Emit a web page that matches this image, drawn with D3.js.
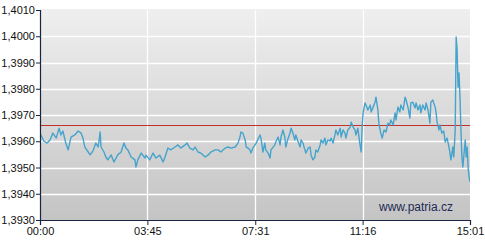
<!DOCTYPE html>
<html>
<head>
<meta charset="utf-8">
<script src="https://cdn.jsdelivr.net/npm/d3@7"></script>
<style>
  body { margin: 0; background: #fff; }
  text { font-family: "Liberation Sans", Arial, sans-serif; }
</style>
</head>
<body>
<svg id="chart"></svg>
<script>
// intraday rate, minutes since 00:00 and value
const minutes = [0,2,8,15,21,27,34,40,44,48,54,59,65,73,80,86,90,94,101,105,111,117,122,126,128,134,138,142,149,155,163,170,176,180,
  184,191,199,201,205,212,220,222,230,237,243,251,258,262,268,274,283,289,295,304,308,314,321,325,331,337,346,352,358,367,373,
  379,388,394,400,409,415,419,421,425,430,432,436,440,442,446,453,461,463,467,471,473,478,482,484,492,494,499,503,505,509,513,515,520,524,526,530,534,536,541,545,547,551,555,557,562,
  566,568,572,576,578,582,587,589,593,597,599,603,608,610,614,618,620,624,629,631,635,639,641,645,650,652,656,660,662,666,670,673,675,677,681,683,687,692,694,698,702,704,708,710,714,717,721,725,729,733,735,740,744,746,750,
  754,756,761,765,767,771,775,777,781,786,788,792,796,798,802,807,809,813,817,819,823,828,830,832,836,838,842,846,849,853,857,859,861,865,867,870,872,874,876,878,880,882,884,886,891,893,895,897,899,901];
const rates = [1.39616,1.39624,1.39601,1.39593,1.39605,1.39631,1.39612,1.39650,1.39624,1.39639,1.39593,1.39567,1.39616,1.39624,1.39639,1.39631,1.39612,1.39578,1.39559,1.39548,1.39563,1.39593,1.39578,1.39635,1.39578,1.39559,1.39540,1.39529,1.39548,1.39521,1.39548,1.39559,1.39593,1.39574,
  1.39567,1.39540,1.39529,1.39502,1.39529,1.39555,1.39536,1.39547,1.39529,1.39555,1.39536,1.39547,1.39521,1.39540,1.39574,1.39567,1.39578,1.39586,1.39574,1.39586,1.39593,1.39574,1.39567,1.39578,1.39559,1.39555,1.39540,1.39547,1.39559,1.39567,1.39567,
  1.39559,1.39574,1.39578,1.39574,1.39578,1.39593,1.39616,1.39635,1.39631,1.39605,1.39578,1.39574,1.39567,1.39555,1.39574,1.39593,1.39624,1.39612,1.39559,1.39593,1.39567,1.39555,1.39536,1.39567,1.39586,1.39597,1.39616,1.39586,1.39616,1.39643,1.39616,1.39578,1.39612,1.39631,1.39650,1.39631,1.39605,1.39624,1.39597,1.39578,1.39605,1.39593,1.39567,1.39555,1.39574,
  1.39578,1.39547,1.39529,1.39540,1.39567,1.39559,1.39586,1.39605,1.39593,1.39612,1.39586,1.39605,1.39601,1.39612,1.39593,1.39624,1.39643,1.39624,1.39650,1.39616,1.39643,1.39631,1.39612,1.39643,1.39654,1.39673,1.39654,1.39643,1.39624,1.39650,1.39593,1.39559,1.39654,1.39708,1.39746,1.39738,1.39719,1.39738,1.39711,1.39730,1.39749,1.39768,1.39719,1.39669,1.39631,1.39612,1.39643,1.39635,1.39669,1.39662,1.39681,1.39662,1.39708,1.39681,1.39730,
  1.39711,1.39738,1.39719,1.39768,1.39757,1.39730,1.39688,1.39746,1.39749,1.39727,1.39746,1.39719,1.39738,1.39708,1.39738,1.39719,1.39746,1.39719,1.39669,1.39749,1.39757,1.39730,1.39708,1.39673,1.39643,1.39662,1.39631,1.39639,1.39597,1.39612,1.39578,1.39555,1.39529,1.39578,1.39540,1.39643,1.39997,1.39948,1.39806,1.39860,1.39768,1.39643,1.39540,1.39502,1.39605,1.39540,1.39578,1.39502,1.39464,1.39445];

const refLevel = 1.3966;
const yTicks = [1.3930,1.3940,1.3950,1.3960,1.3970,1.3980,1.3990,1.4000,1.4010];
const xTickMinutes = [0,225,451,676,901];
const xTickLabels = ["00:00","03:45","07:31","11:16","15:01"];

const width = 485, height = 241;
const margin = {top: 10, right: 15, bottom: 21, left: 40};

const svg = d3.select("#chart").attr("width", width).attr("height", height);

const x = d3.scaleLinear().domain([0, 901]).range([margin.left, width - margin.right]);
const y = d3.scaleLinear().domain([1.3930, 1.4010]).range([height - margin.bottom, margin.top]);

// background gradient of the plot area
const grad = svg.append("defs").append("linearGradient")
  .attr("id", "bg").attr("x1", 0).attr("y1", 0).attr("x2", 0).attr("y2", 1);
grad.append("stop").attr("offset", "0%").attr("stop-color", "#efefef");
grad.append("stop").attr("offset", "100%").attr("stop-color", "#c4c4c4");

svg.append("defs").append("clipPath").attr("id", "clip")
  .append("rect")
  .attr("x", x(0)).attr("y", y(1.4010) - 1)
  .attr("width", x(901) - x(0)).attr("height", y(1.3930) - y(1.4010) + 1);

svg.append("rect")
  .attr("x", x(0)).attr("y", y(1.4010) - 1)
  .attr("width", x(901) - x(0))
  .attr("height", y(1.3930) - y(1.4010) + 1)
  .attr("fill", "url(#bg)");

// white grid
svg.append("g").selectAll("line")
  .data(yTicks.slice(1, -1))
  .join("line")
  .attr("x1", x(0)).attr("x2", x(901))
  .attr("y1", d => Math.round(y(d)) + 0.5).attr("y2", d => Math.round(y(d)) + 0.5)
  .attr("stroke", "#fff").attr("stroke-width", 1.3);

svg.append("g").selectAll("line")
  .data(xTickMinutes.slice(1, -1))
  .join("line")
  .attr("x1", d => Math.round(x(d)) + 0.5).attr("x2", d => Math.round(x(d)) + 0.5)
  .attr("y1", y(1.4010)).attr("y2", y(1.3930))
  .attr("stroke", "#fff").attr("stroke-width", 1.3);

// reference level
svg.append("line")
  .attr("x1", x(0)).attr("x2", x(901))
  .attr("y1", Math.round(y(refLevel)) + 0.5).attr("y2", Math.round(y(refLevel)) + 0.5)
  .attr("stroke", "#c0302c").attr("stroke-width", 1);

// price line
const pts = minutes.map((m, i) => [m, rates[i]]);
svg.append("path")
  .datum(pts)
  .attr("clip-path", "url(#clip)")
  .attr("fill", "none")
  .attr("stroke", "#45a3cc")
  .attr("stroke-width", 1.4)
  .attr("stroke-linejoin", "round")
  .attr("d", d3.line().x(d => x(d[0])).y(d => y(d[1])));

// watermark
svg.append("text")
  .attr("x", 453).attr("y", 211)
  .attr("text-anchor", "end")
  .attr("font-size", 12)
  .attr("fill", "#1d2b55")
  .text("www.patria.cz");

// axes
const loc = d3.formatLocale({decimal: ",", thousands: " ", grouping: [3], currency: ["", ""]});
const fmt = loc.format(".4f");

const yAxis = svg.append("g")
  .attr("transform", `translate(${x(0)},0)`)
  .call(d3.axisLeft(y).tickValues(yTicks).tickFormat(fmt).tickSize(4).tickPadding(1));

const xAxis = svg.append("g")
  .attr("transform", `translate(0,${y(1.3930)})`)
  .call(d3.axisBottom(x).tickValues(xTickMinutes)
    .tickFormat((d, i) => xTickLabels[i]).tickSize(5).tickPadding(2));

[yAxis, xAxis].forEach(a => {
  a.select(".domain").attr("stroke", "#1b2340").attr("stroke-width", 1.2);
  a.selectAll(".tick line").attr("stroke", "#1b2340");
  a.selectAll("text").attr("font-size", 11).attr("fill", "#111")
    .attr("font-family", "'Liberation Sans', Arial, sans-serif");
});
</script>
</body>
</html>
